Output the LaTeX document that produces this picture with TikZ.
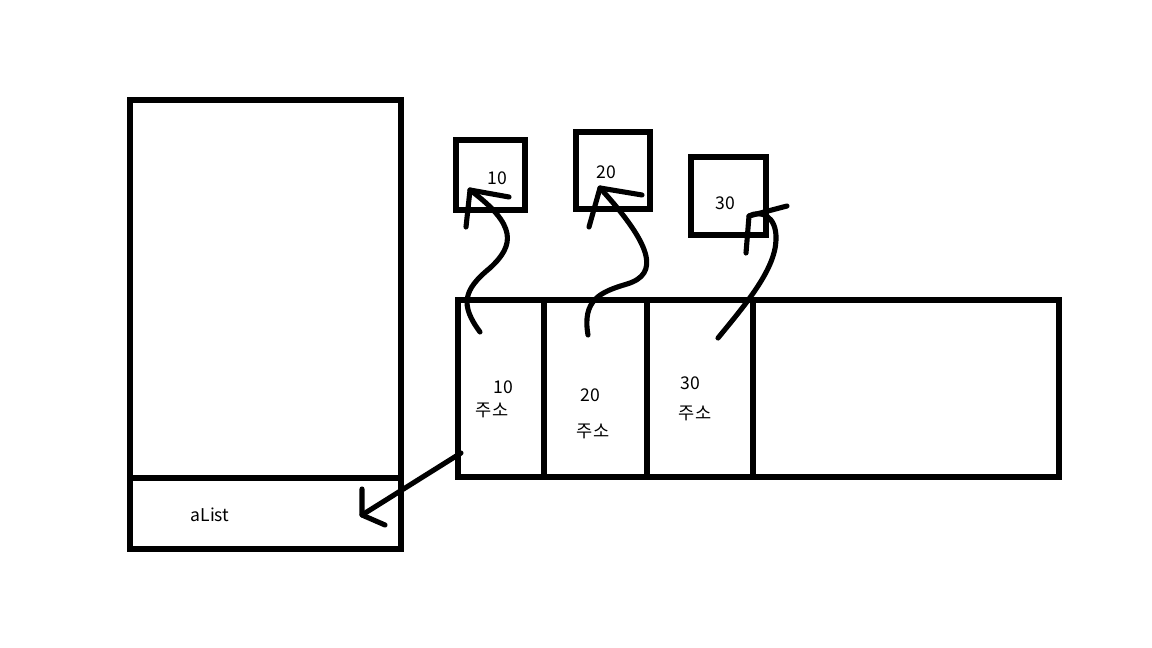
\documentclass[tikz,border=0pt]{standalone}
\usepackage{fontspec}
\setmainfont{Noto Sans CJK KR}
\usepackage{tikz}
\usetikzlibrary{positioning}
\definecolor{cink}{RGB}{0,0,0}

\begin{document}
\begin{tikzpicture}[
    x=0.02cm, y=-0.02cm,
    every node/.style={font=\fontsize{10}{12}\selectfont, inner sep=0pt},
    box/.style={draw=cink, line width=2.9pt},
    pen/.style={draw=cink, line width=2.9pt, line cap=round, line join=round},
]
    \useasboundingbox (0,0) rectangle (1152,648);

    % Stack frame with the variable aList
    \draw[box] (130,100) rectangle (401,549);
    \draw[box] (127,478) -- (401,478);
    \node (alist) at (210,515) {aList};

    % Integer objects
    \draw[box] (456,140) rectangle (525,210);
    \node (obj10) at (497,178) {10};
    \draw[box] (576,132) rectangle (650,209);
    \node (obj20) at (606,172) {20};
    \draw[box] (691,157) rectangle (766,235);
    \node (obj30) at (725,203) {30};

    % List object holding the addresses
    \draw[box] (458,300) rectangle (1059,477);
    \foreach \x in {544, 647, 753}
        \draw[box] (\x,300) -- (\x,477);
    \node (val10) at (503,387) {10};
    \node (adr10) at (492,410) {주소};
    \node (val20) at (590,395) {20};
    \node (adr20) at (593,431) {주소};
    \node (val30) at (690,383) {30};
    \node (adr30) at (695,413) {주소};

    % Hand drawn pointers
    \coordinate (ptr10-from) at (480,332);
    \coordinate (ptr10-to) at (470,190);
    \draw[pen] (ptr10-from) .. controls (460,305) and (463,290) .. (490,268)
        .. controls (515,245) and (517,225) .. (ptr10-to);
    \draw[pen] (509,197) -- (ptr10-to) -- (466,227);

    \coordinate (ptr20-from) at (588,335);
    \coordinate (ptr20-to) at (600,188);
    \draw[pen] (ptr20-from) .. controls (582,300) and (600,292) .. (627,284)
        .. controls (660,274) and (652,245) .. (ptr20-to);
    \draw[pen] (642,195) -- (ptr20-to) -- (589,227);

    \coordinate (ptr30-from) at (718,338);
    \coordinate (ptr30-to) at (749,216);
    \draw[pen] (ptr30-from) .. controls (745,305) and (775,270) .. (776,240)
        .. controls (777,215) and (760,210) .. (ptr30-to);
    \draw[pen] (787,206) -- (ptr30-to) -- (746,253);

    % Reference from aList to the list
    \coordinate (ref-from) at (461,453);
    \coordinate (ref-to) at (362,515);
    \draw[pen] (ref-from) -- (ref-to);
    \draw[pen] (362,489) -- (ref-to) -- (385,525);
\end{tikzpicture}
\end{document}
